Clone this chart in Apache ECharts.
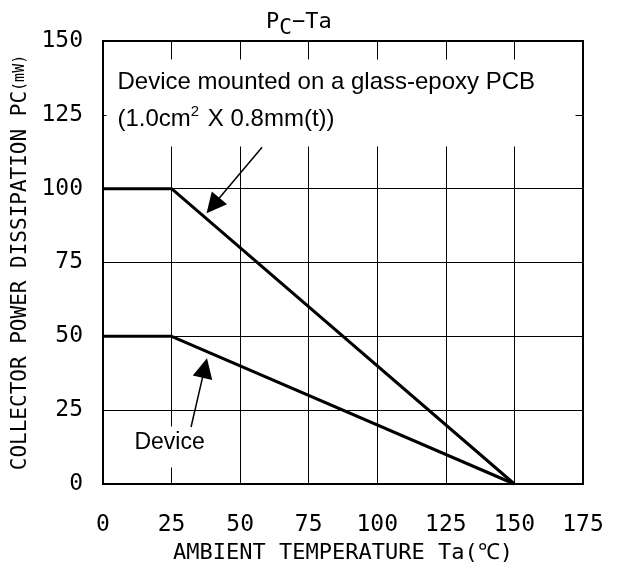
<!DOCTYPE html>
<html>
<head>
<meta charset="utf-8">
<script src="https://cdn.jsdelivr.net/npm/echarts@6/dist/echarts.min.js"></script>
<style>
html, body { margin: 0; padding: 0; background: #fff; }
#chart { width: 618px; height: 573px; }
</style>
</head>
<body>
<div id="chart"></div>
<script>
// derating curves, Ta (°C) -> Pc (mW)
const boardCurve = [[0, 100], [25, 100], [150, 0]];
const deviceCurve = [[0, 50], [25, 50], [150, 0]];
const xTicks = [0, 25, 50, 75, 100, 125, 150, 175];
const yTicks = [0, 25, 50, 75, 100, 125, 150];

// notes and their arrows (in data units)
const boardNote = ['Device mounted on a glass-epoxy PCB', '(1.0cm{sup|2} X 0.8mm(t))'];
const deviceNote = 'Device';
const boardArrow = [[58, 114], [40.1, 94.3]];
const deviceArrow = [[32.1, 19.3], [37.1, 39.3]];

const monoFont = '"DejaVu Sans Mono", "Liberation Mono", monospace';
const sansFont = '"Liberation Sans", Arial, sans-serif';

let chartObj = echarts.init(document.getElementById('chart'));

let options = {
    animation: false,
    backgroundColor: '#fff',
    title: {
        left: 266,
        top: 6,
        padding: 0,
        text: '{p|P}{sub|C}{p|−Ta}',
        textStyle: {
            fontWeight: 'normal',
            rich: {
                p: { fontFamily: monoFont, fontSize: 22, fontWeight: 'normal', color: '#000' },
                sub: { fontFamily: monoFont, fontSize: 21, fontWeight: 'normal', color: '#000', padding: [12, 0, 0, 0] }
            }
        }
    },
    grid: {
        left: 103,
        right: 35,
        top: 41,
        bottom: 89,
        show: true,
        borderColor: '#000',
        borderWidth: 2
    },
    xAxis: {
        type: 'value',
        min: xTicks[0],
        max: xTicks[xTicks.length - 1],
        interval: 25,
        name: 'AMBIENT TEMPERATURE Ta(℃)',
        nameLocation: 'middle',
        nameGap: 53,
        nameTextStyle: { fontFamily: monoFont, fontSize: 22, color: '#000' },
        axisLine: { lineStyle: { color: '#000', width: 2 } },
        axisTick: { show: false },
        axisLabel: { margin: 30, fontFamily: monoFont, fontSize: 23, color: '#000' },
        splitLine: { lineStyle: { color: '#000', width: 1 } }
    },
    yAxis: {
        type: 'value',
        min: yTicks[0],
        max: yTicks[yTicks.length - 1],
        interval: 25,
        name: '{a|COLLECTOR POWER DISSIPATION PC}{b|(mW)}',
        nameLocation: 'middle',
        nameGap: 70,
        nameTextStyle: {
            rich: {
                a: { fontFamily: monoFont, fontSize: 21, color: '#000' },
                b: { fontFamily: monoFont, fontSize: 15, color: '#000' }
            }
        },
        axisLine: { lineStyle: { color: '#000', width: 2 } },
        axisTick: { show: false },
        axisLabel: { margin: 20, fontFamily: monoFont, fontSize: 23, color: '#000' },
        splitLine: { lineStyle: { color: '#000', width: 1 } }
    },
    series: [
        {
            name: 'board',
            type: 'line',
            symbol: 'none',
            lineStyle: { color: '#000', width: 3 },
            data: boardCurve,
            z: 3,
            markLine: {
                silent: true,
                symbol: ['none', 'triangle'],
                symbolSize: 20,
                label: { show: false },
                lineStyle: { color: '#000', width: 1.5, type: 'solid' },
                data: [
                    [{ coord: boardArrow[0] }, { coord: boardArrow[1] }],
                    [{ coord: deviceArrow[0] }, { coord: deviceArrow[1] }]
                ]
            }
        },
        {
            name: 'device',
            type: 'line',
            symbol: 'none',
            lineStyle: { color: '#000', width: 3 },
            data: deviceCurve,
            z: 3
        },
        {
            // white-backed note boxes, they hide the grid behind the text
            name: 'notes',
            type: 'scatter',
            symbolSize: 1,
            itemStyle: { color: 'transparent', opacity: 1 },
            z: 2,
            data: [
                {
                    value: [1.46, 143.6],
                    label: {
                        show: true,
                        position: [0, 0],
                        formatter: boardNote.join('\n'),
                        fontFamily: sansFont,
                        fontSize: 24,
                        lineHeight: 37,
                        color: '#000',
                        backgroundColor: '#fff',
                        width: 458,
                        padding: [4, 0, 9, 11],
                        rich: {
                            sup: {
                                fontFamily: sansFont,
                                fontSize: 15,
                                color: '#000',
                                lineHeight: 37,
                                padding: [0, 2, 14, 0]
                            }
                        }
                    }
                },
                {
                    value: [9.8, 19.3],
                    label: {
                        show: true,
                        position: [0, 0],
                        formatter: deviceNote,
                        fontFamily: sansFont,
                        fontSize: 23,
                        lineHeight: 30,
                        color: '#000',
                        backgroundColor: '#fff',
                        padding: [1, 5, 10, 5]
                    }
                }
            ]
        }
    ]
};

chartObj.setOption(options);
</script>
</body>
</html>
